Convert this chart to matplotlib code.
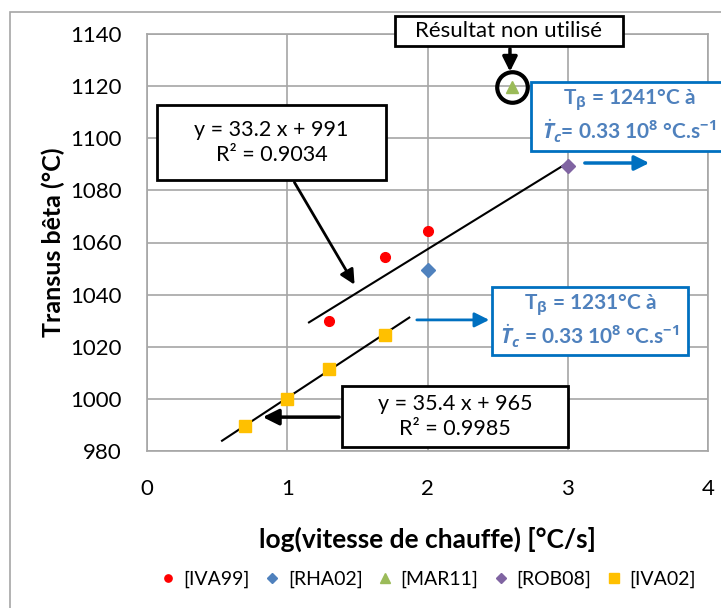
import numpy as np
import matplotlib
matplotlib.use("Agg")
import matplotlib.pyplot as plt
from matplotlib.patches import Rectangle

plt.rcParams['font.family'] = ['Lato', 'DejaVu Sans']
plt.rcParams['mathtext.fontset'] = 'custom'
plt.rcParams['mathtext.rm'] = 'Open Sans:bold'
plt.rcParams['mathtext.it'] = 'Open Sans:italic:bold'
plt.rcParams['mathtext.bf'] = 'Open Sans:bold'

# data
iva99_x = [1.3, 1.7, 2.0]
iva99_y = [1030, 1054.5, 1064.5]
rha02_x = [2.0]
rha02_y = [1049.5]
mar11_x = [2.6]
mar11_y = [1119.5]
rob08_x = [3.0]
rob08_y = [1089.5]
iva02_x = [0.7, 1.0, 1.3, 1.7]
iva02_y = [989.5, 1000, 1011.5, 1024.5]

# trend lines (Excel)
fit1_slope, fit1_icpt, fit1_r2 = 33.2, 991, 0.9034
fit1_x = [1.155, 3.0]
fit2_slope, fit2_icpt, fit2_r2 = 35.4, 965, 0.9985
fit2_x = [0.535, 1.87]

fig = plt.figure(figsize=(7.21, 6.08), dpi=100)
ax = fig.add_axes([147/721, 1-451/608, 561/721, 417/608])

grid_c = '#a6a6a6'
ax.set_xlim(0, 4)
ax.set_ylim(980, 1140)
ax.set_xticks(np.arange(0, 5, 1))
ax.set_yticks(np.arange(980, 1141, 20))
ax.grid(True, color=grid_c, lw=1.2)
ax.set_axisbelow(True)
for s in ax.spines.values():
    s.set_color(grid_c)
    s.set_linewidth(1.2)
ax.tick_params(length=0, labelsize=16)
ax.tick_params(axis='x', pad=20)
ax.tick_params(axis='y', pad=18)

ax.set_xlabel('log(vitesse de chauffe) [°C/s]', fontsize=19, fontweight='bold', labelpad=20)
ax.set_ylabel('Transus bêta (°C)', fontsize=18, fontweight='bold', labelpad=4)

# trend lines
fx1 = np.array(fit1_x)
ax.plot(fx1, fit1_slope*fx1 + fit1_icpt, color='black', lw=1.5, zorder=3)
fx2 = np.array(fit2_x)
ax.plot(fx2, fit2_slope*fx2 + fit2_icpt, color='black', lw=1.5, zorder=3)

ax.plot(iva99_x, iva99_y, 'o', color='#ff0000', ms=7, ls='none', label='[IVA99]', zorder=4)
ax.plot(rha02_x, rha02_y, 'D', color='#4f81bd', ms=7, ls='none', label='[RHA02]', zorder=4)
ax.plot(mar11_x, mar11_y, '^', color='#9bbb59', ms=9, ls='none', label='[MAR11]', zorder=4)
ax.plot(rob08_x, rob08_y, 'D', color='#8064a2', ms=7, ls='none', label='[ROB08]', zorder=4)
ax.plot(iva02_x, iva02_y, 's', color='#ffc000', ms=9, ls='none', label='[IVA02]', zorder=4)

# circle around unused result
ax.plot(mar11_x, mar11_y, 'o', mfc='none', mec='black', mew=3, ms=22, zorder=5)

def box(x0, y0, x1, y1, ec, lw):
    r = Rectangle((x0, y0), x1-x0, y1-y0, fc='white', ec=ec, lw=lw,
                  clip_on=False, zorder=6)
    ax.add_patch(r)
    return ((x0+x1)/2, (y0+y1)/2)

# equation box 1
cx, cy = box(0.071, 1084.0, 1.704, 1112.8, 'black', 2)
ax.text(cx, cy, 'y = %.1f x + %d\nR² = %.4f' % (fit1_slope, fit1_icpt, fit1_r2),
        ha='center', va='center', fontsize=15.5, zorder=7, linespacing=1.3)
ax.annotate('', xy=(1.49, 1042.9), xytext=(1.041, 1084.0),
            arrowprops=dict(arrowstyle='-|>', color='black', lw=2, mutation_scale=22),
            zorder=7)

# equation box 2
cx, cy = box(1.390, 981.5, 3.002, 1004.9, 'black', 2)
ax.text(cx, cy, 'y = %.1f x + %d\nR² = %.4f' % (fit2_slope, fit2_icpt, fit2_r2),
        ha='center', va='center', fontsize=15.5, zorder=7, linespacing=1.3)
ax.annotate('', xy=(0.806, 993.0), xytext=(1.390, 993.0),
            arrowprops=dict(arrowstyle='-|>', color='black', lw=2.5, mutation_scale=24),
            zorder=7)

# "Résultat non utilisé"
cx, cy = box(1.768, 1135.4, 3.394, 1146.9, 'black', 2)
ax.text(cx, cy, 'Résultat non utilisé', ha='center', va='center', fontsize=16, zorder=7)
ax.annotate('', xy=(2.588, 1124.5), xytext=(2.588, 1135.4),
            arrowprops=dict(arrowstyle='-|>', color='black', lw=2.5, mutation_scale=22),
            zorder=7, annotation_clip=False)

blue_txt = '#4f81bd'
blue_ln = '#0070c0'

cx, cy = box(2.738, 1095.1, 4.15, 1121.6, blue_ln, 2)
ax.text(2.738 + (3.857-2.460)/2, cy,
        r'T$_{\mathrm{\beta}}$ = 1241°C à' + '\n' + r'$\dot{T}_c$= 0.33 10$^{8}$ °C.s$^{-1}$',
        ha='center', va='center', fontsize=15, fontweight='bold', color=blue_txt,
        zorder=7, linespacing=1.2)
ax.annotate('', xy=(3.601, 1090.5), xytext=(3.102, 1090.5),
            arrowprops=dict(arrowstyle='-|>', color=blue_ln, lw=2.5, mutation_scale=22),
            zorder=7)

cx, cy = box(2.460, 1016.8, 3.857, 1042.9, blue_ln, 2)
ax.text(cx, cy,
        r'T$_{\mathrm{\beta}}$ = 1231°C à' + '\n' + r'$\dot{T}_c$ = 0.33 10$^{8}$ °C.s$^{-1}$',
        ha='center', va='center', fontsize=15, fontweight='bold', color=blue_txt,
        zorder=7, linespacing=1.2)
ax.annotate('', xy=(2.460, 1030.3), xytext=(1.904, 1030.3),
            arrowprops=dict(arrowstyle='-|>', color=blue_ln, lw=2, mutation_scale=22),
            zorder=7)

leg = fig.legend(loc='center', bbox_to_anchor=(428/721, 1-579/608), ncol=5,
                 frameon=False, fontsize=14, handletextpad=0.4, columnspacing=0.75,
                 markerscale=0.75, handlelength=0.8, borderaxespad=0, borderpad=0)

# chart area border
fig.patches.append(Rectangle((10/721, -0.05), 1.0, 1-12/608+0.05, transform=fig.transFigure,
                             fill=False, ec='#a6a6a6', lw=1.2))

fig.savefig('out.png', dpi=100)
